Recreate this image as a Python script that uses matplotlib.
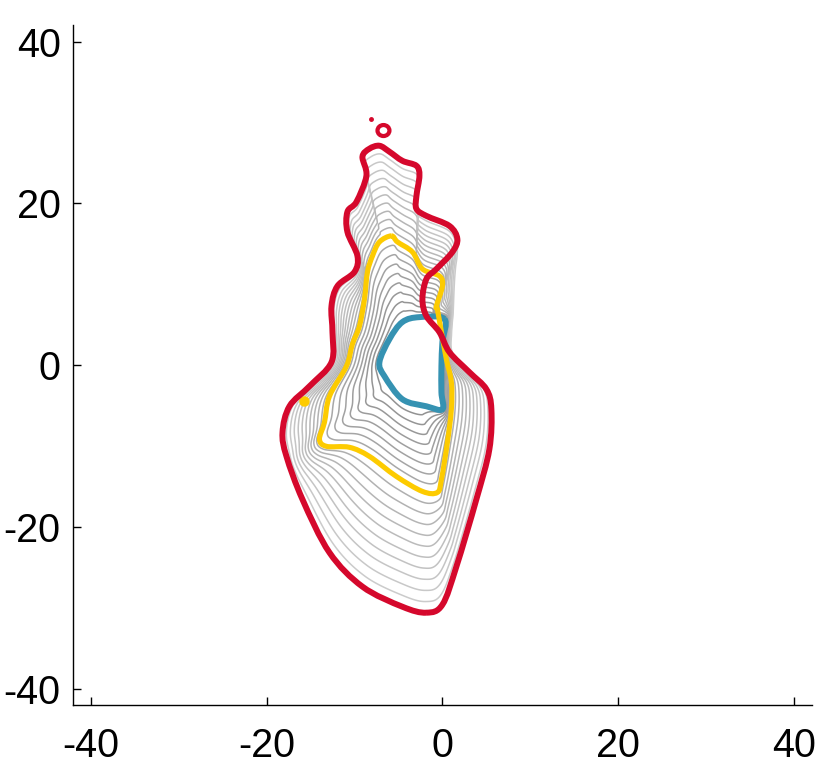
import numpy as np
import matplotlib
matplotlib.use("Agg")
import matplotlib.pyplot as plt
from matplotlib.path import Path
from matplotlib.patches import Circle, PathPatch

# ---------------- data ----------------
red_x = [-1.82, 0.00, 1.59, 3.86, 5.34, 5.57, 5.00, 3.07, 0.80, -0.34, -1.82, -2.27,
         -1.82, -0.68, 1.14, 1.70, 0.80, -1.82, -2.95, -2.95, -2.61, -2.95, -4.55,
         -6.02, -7.16, -8.30, -9.09, -8.64, -9.77, -10.80, -10.80, -9.66, -10.00,
         -11.93, -12.61, -12.50, -12.61, -15.11, -17.39, -18.18, -17.73, -15.91,
         -12.84, -9.09, -4.55]
red_y = [-30.59, -29.60, -24.89, -16.59, -10.40, -5.45, -2.97, -0.87, 1.61, 4.09, 6.07,
         8.17, 10.65, 11.89, 13.99, 15.60, 17.21, 18.45, 19.32, 20.93, 23.41, 24.64,
         25.26, 26.38, 27.12, 26.75, 25.76, 23.41, 20.19, 18.95, 16.47, 13.50, 11.52,
         9.78, 7.31, 4.09, 0.37, -2.60, -5.08, -8.30, -11.27, -16.59, -23.16, -27.37,
         -29.85]

# outer extent of the grey isolines (differs from red on the right of the neck)
grey_x = [-1.82, 0.00, 1.59, 3.86, 5.34, 5.57, 5.00, 3.07, 1.20, 1.10, 1.30, 1.50,
          1.70, 1.90, 1.70, 0.80, -1.82, -2.95, -2.95, -2.61, -2.95, -4.55,
          -6.02, -7.16, -8.30, -9.09, -8.64, -9.77, -10.80, -10.80, -9.66, -10.00,
          -11.93, -12.61, -12.50, -12.61, -15.11, -17.39, -18.18, -17.73, -15.91,
          -12.84, -9.09, -4.55]
grey_y = [-30.59, -29.60, -24.89, -16.59, -10.40, -5.45, -2.97, -0.87, 1.61, 4.00, 7.00,
          10.00, 12.50, 14.20, 15.60, 17.21, 18.45, 19.32, 20.93, 23.41, 24.64,
          25.26, 26.38, 27.12, 26.75, 25.76, 23.41, 20.19, 18.95, 16.47, 13.50, 11.52,
          9.78, 7.31, 4.09, 0.37, -2.60, -5.08, -8.30, -11.27, -16.59, -23.16, -27.37,
          -29.85]

yellow_x = [-5.80, -7.16, -7.95, -8.52, -8.86, -9.43, -10.23, -10.91, -12.84, -13.41,
            -13.98, -13.18, -10.57, -8.30, -5.23, -2.27, -0.57, -0.11, 0.57, 1.02,
            1.02, 0.45, -0.11, -0.57, -0.68, 0.00, -0.34, -2.27, -3.41, -5.11]
yellow_y = [15.98, 15.23, 13.50, 11.52, 8.17, 4.83, 2.60, -0.12, -3.84, -7.06,
            -9.16, -10.03, -10.15, -11.27, -13.75, -15.60, -15.73, -14.12, -9.54, -5.45,
            -2.11, 0.74, 4.09, 6.93, 7.31, 9.78, 11.02, 11.89, 13.99, 15.23]

blue_x = [0.23, -2.61, -4.55, -6.02, -7.16, -6.59, -4.55, -1.82, 0.00, -0.11, -0.11, 0.00]
blue_y = [5.70, 5.94, 5.33, 3.22, 0.37, -1.36, -4.21, -5.08, -5.45, -3.34, -0.12, 2.85]

ring_x, ring_y, ring_r = [-6.70], [29.00], [0.68]
speck_x, speck_y = [-8.07], [30.46]
ydot_x, ydot_y = [-15.68], [-4.46]

center = (-3.5, 0.0)
n_inner, n_outer = 9, 11          # isoline steps inside / outside the yellow line
ticks = [-40, -20, 0, 20, 40]

RED, YELLOW, BLUE = "#d5082c", "#fdcb00", "#3592b2"


# ---------------- helpers ----------------
def smooth_path(xs, ys):
    """Closed Catmull-Rom curve through the points, as a cubic Bezier Path."""
    P = np.column_stack([xs, ys]).astype(float)
    n = len(P)
    verts = [P[0]]
    codes = [Path.MOVETO]
    for i in range(n):
        p0, p1, p2, p3 = P[i - 1], P[i], P[(i + 1) % n], P[(i + 2) % n]
        verts += [p1 + (p2 - p0) / 6.0, p2 - (p3 - p1) / 6.0, p2]
        codes += [Path.CURVE4] * 3
    return Path(np.array(verts), codes)


def flatten(path, steps=24):
    v = path.vertices
    t = np.linspace(0, 1, steps, endpoint=False)[:, None]
    out = []
    for k in range(1, len(v) - 1, 3):
        a, b, c, d = v[k - 1], v[k], v[k + 1], v[k + 2]
        out.append((1 - t) ** 3 * a + 3 * (1 - t) ** 2 * t * b
                   + 3 * (1 - t) * t ** 2 * c + t ** 3 * d)
    return np.vstack(out)


def radial(poly, theta):
    x0 = poly[:, 0]; y0 = poly[:, 1]
    x1 = np.roll(x0, -1); y1 = np.roll(y0, -1)
    dx = np.cos(theta)[:, None]; dy = np.sin(theta)[:, None]
    ex = (x1 - x0)[None, :]; ey = (y1 - y0)[None, :]
    wx = (x0 - center[0])[None, :]; wy = (y0 - center[1])[None, :]
    det = -dx * ey + ex * dy
    with np.errstate(divide="ignore", invalid="ignore"):
        t = (-wx * ey + ex * wy) / det
        s = (dx * wy - dy * wx) / det
    ok = (det != 0) & (s >= 0) & (s <= 1) & (t > 0)
    t = np.where(ok, t, -np.inf)
    return t.max(axis=1)


red_path = smooth_path(red_x, red_y)
yel_path = smooth_path(yellow_x, yellow_y)
blue_path = smooth_path(blue_x, blue_y)
grey_path = smooth_path(grey_x, grey_y)

blue_poly = flatten(blue_path)
yel_poly = flatten(yel_path)
grey_poly = flatten(grey_path)

th = np.linspace(-np.pi, np.pi, 4001)
rb = radial(blue_poly, th)
ry = np.maximum(radial(yel_poly, th), rb + 0.6)
ro = np.maximum(radial(grey_poly, th), ry + 0.6)

gx = np.linspace(-20, 8, 700)
gy = np.linspace(-32, 29, 1000)
X, Y = np.meshgrid(gx, gy)
T = np.arctan2(Y - center[1], X - center[0])
R = np.hypot(X - center[0], Y - center[1])
RB = np.interp(T, th, rb); RY = np.interp(T, th, ry); RO = np.interp(T, th, ro)
F = np.where(R < RY,
             n_inner * (R - RB) / (RY - RB),
             n_inner + n_outer * (R - RY) / (RO - RY))
pts = np.column_stack([X.ravel(), Y.ravel()])
inside = Path(grey_poly).contains_points(pts).reshape(X.shape)
in_blue = Path(blue_poly).contains_points(pts).reshape(X.shape)
F = np.ma.masked_where(~inside | in_blue, F)

levels = [k for k in range(1, n_inner + n_outer) if k != n_inner]
greys = [str(0.56 + 0.25 * (k / (n_inner + n_outer))) for k in levels]

# ---------------- drawing ----------------
plt.rcParams["font.family"] = ["Liberation Sans", "DejaVu Sans"]
plt.rcParams["axes.unicode_minus"] = False
fig = plt.figure(figsize=(8.3, 7.68), dpi=100)
ax = fig.add_axes([0.088, 0.082, 0.890, 0.885])

ax.contour(X, Y, F, levels=levels, colors=greys, linewidths=1.1, zorder=2)

ax.add_patch(PathPatch(blue_path, fill=False, ec=BLUE, lw=4.3, joinstyle="round", zorder=4))
ax.add_patch(PathPatch(yel_path, fill=False, ec=YELLOW, lw=3.7, joinstyle="round", zorder=5))
ax.plot(ydot_x, ydot_y, "o", color=YELLOW, ms=6.5, zorder=5)
ax.add_patch(PathPatch(red_path, fill=False, ec=RED, lw=4.3, joinstyle="round", zorder=6))
for cx, cy, rr in zip(ring_x, ring_y, ring_r):
    ax.add_patch(Circle((cx, cy), rr, fill=False, ec=RED, lw=3.0, zorder=6))
ax.plot(speck_x, speck_y, "o", color=RED, ms=2.5, zorder=6)

ax.set_xlim(-42, 42)
ax.set_ylim(-42, 42)
ax.set_xticks(ticks)
ax.set_yticks(ticks)
for s in ("top", "right"):
    ax.spines[s].set_visible(False)
for s in ("left", "bottom"):
    ax.spines[s].set_linewidth(1.0)
ax.tick_params(direction="in", length=6, width=1.0, labelsize=28.5)
ax.tick_params(axis="x", pad=16)
ax.tick_params(axis="y", pad=9)

fig.savefig("out.png", dpi=100)
